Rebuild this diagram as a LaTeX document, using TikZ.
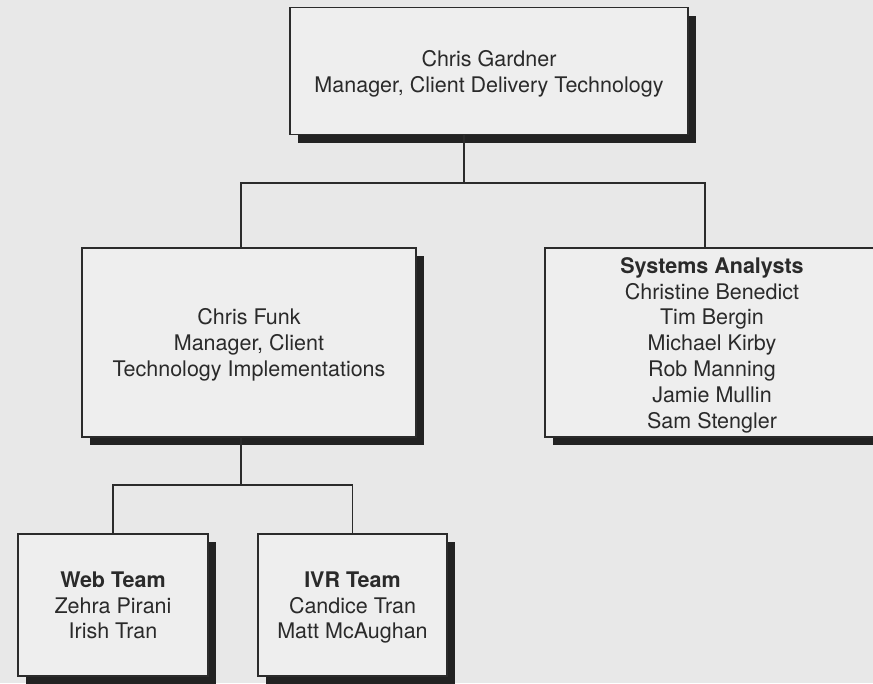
\documentclass[tikz,border=0pt]{standalone}
\usepackage{fontspec}
\setmainfont{TeX Gyre Heros}
\usetikzlibrary{shadows}
\definecolor{paper}{HTML}{E8E8E8}
\definecolor{boxfill}{HTML}{EEEEEE}
\definecolor{linec}{HTML}{2B2B2B}
\definecolor{shadowc}{HTML}{222222}
\definecolor{textc}{HTML}{2A2A2A}
\newcommand\orgfont{\fontsize{21.5}{25.8}\selectfont}
% struts that keep every text block at the same vertical position
\newcommand\headstrut{\rule{0pt}{24pt}}
\newcommand\footstrut{\rule[-7.7pt]{0pt}{7.7pt}}
\begin{document}
\begin{tikzpicture}[x=1pt,y=-1pt,
  unit/.style={draw=linec, line width=1.6pt, fill=boxfill, align=center,
    font=\orgfont, text=textc, inner sep=0pt, outer sep=0pt,
    general shadow={fill=shadowc, shadow xshift=8pt, shadow yshift=-8pt}},
  link/.style={draw=linec, line width=1.3pt}]
\useasboundingbox (0,0) rectangle (873,683);
\fill[paper] (0,0) rectangle (873,683);
\clip (0,0) rectangle (873,683);

% boxes
\node[unit, minimum width=398pt, minimum height=127pt] (top) at (489,71)
  {\headstrut Chris Gardner\\Manager, Client Delivery Technology\footstrut};
\node[unit, minimum width=334pt, minimum height=189pt] (funk) at (249,342.5)
  {\headstrut Chris Funk\\Manager, Client\\Technology Implementations\footstrut};
\node[unit, minimum width=334pt, minimum height=189pt] (ana) at (712,342.5)
  {\headstrut\textbf{Systems Analysts}\\Christine Benedict\\Tim Bergin\\Michael Kirby\\Rob Manning\\Jamie Mullin\\Sam Stengler\footstrut};
\node[unit, minimum width=190pt, minimum height=142pt] (web) at (113,605)
  {\headstrut\textbf{Web Team}\\Zehra Pirani\\Irish Tran\footstrut};
\node[unit, minimum width=189pt, minimum height=142pt] (ivr) at (352.5,605)
  {\headstrut\textbf{IVR Team}\\Candice Tran\\Matt McAughan\footstrut};

% junction points of the tree
\coordinate (t1) at (464,183);
\coordinate (b1l) at (241,183);
\coordinate (b1r) at (705,183);
\coordinate (t2) at (241,485);
\coordinate (b2l) at (113,485);
\coordinate (b2r) at (352.5,485);

% connectors
\draw[link] (t1 |- top.south) -- (t1);
\draw[link] (b1l |- funk.north) -- (b1l) -- (b1r) -- (b1r |- ana.north);
\draw[link] (t2 |- funk.south) -- (t2);
\draw[link] (b2l |- web.north) -- (b2l) -- (b2r) -- (b2r |- ivr.north);
\end{tikzpicture}
\end{document}
